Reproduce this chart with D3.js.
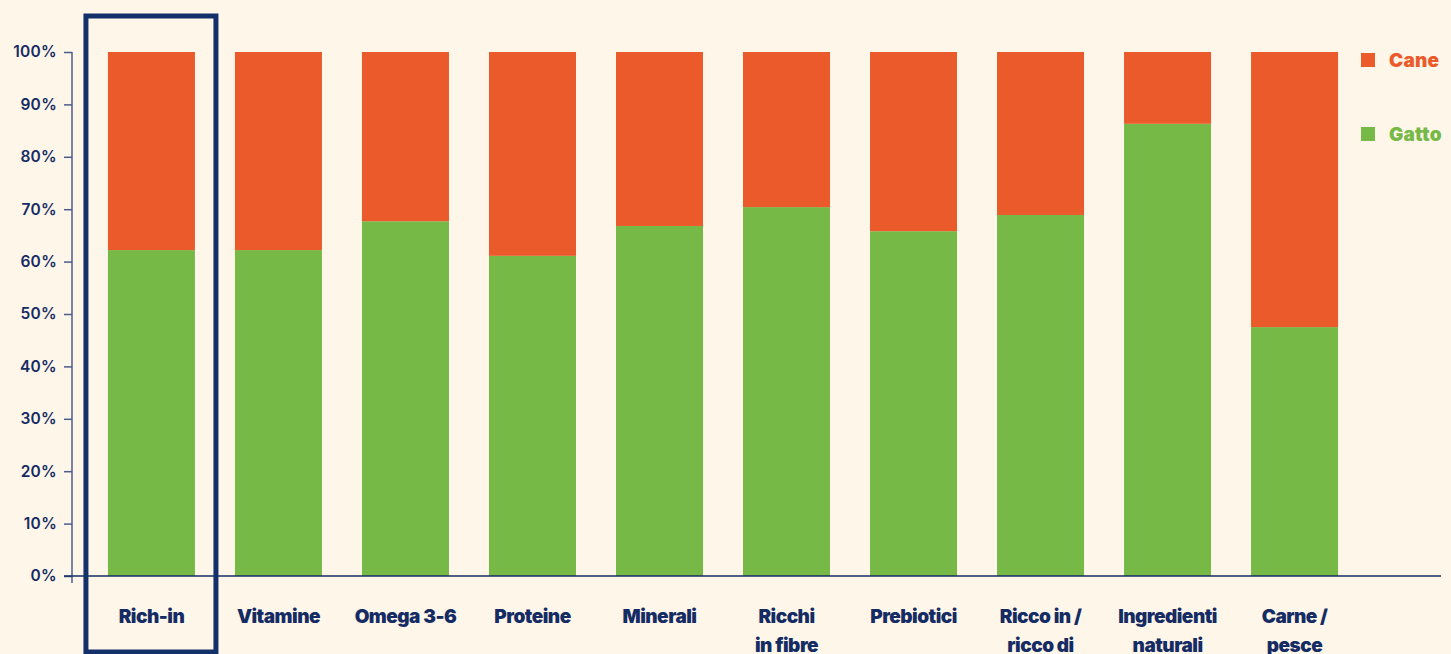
<!DOCTYPE html>
<html>
<head>
<meta charset="utf-8">
<script src="https://cdn.jsdelivr.net/npm/d3@7"></script>
<style>
  html, body { margin: 0; padding: 0; background: #fef6e8; }
  svg { display: block; }
</style>
</head>
<body>
<svg id="chart" width="1451" height="654"></svg>
<script>
// Share of cat (Gatto) vs dog (Cane) mentions per claim, in percent
const categories = [
  ["Rich-in"],
  ["Vitamine"],
  ["Omega 3-6"],
  ["Proteine"],
  ["Minerali"],
  ["Ricchi", "in fibre"],
  ["Prebiotici"],
  ["Ricco in /", "ricco di"],
  ["Ingredienti", "naturali"],
  ["Carne /", "pesce"]
];
const gatto = [62.2, 62.2, 67.7, 61.1, 66.8, 70.4, 65.8, 68.9, 86.3, 47.5];
const cane = gatto.map(v => 100 - v);
const yTicks = [0, 10, 20, 30, 40, 50, 60, 70, 80, 90, 100];
const seriesNames = ["Cane", "Gatto"];

const colors = { Cane: "#ea5a2b", Gatto: "#77b947" };
const navy = "#152b64";
const font = "Inter, 'Noto Sans', sans-serif";

const svg = d3.select("#chart");
const axisX = 72;

const x = d3.scaleBand()
  .domain(d3.range(categories.length))
  .range([88, 1358])
  .paddingInner(0.315)
  .paddingOuter(0.157);

const y = d3.scaleLinear()
  .domain([0, 100])
  .range([576, 52]);

// Stacked values: Gatto at the bottom, Cane on top
const rows = categories.map((c, i) => ({ i, Gatto: gatto[i], Cane: cane[i] }));
const layers = d3.stack().keys(["Gatto", "Cane"])(rows);

svg.append("g")
  .selectAll("g")
  .data(layers)
  .join("g")
  .attr("fill", d => colors[d.key])
  .selectAll("rect")
  .data(d => d)
  .join("rect")
  .attr("x", d => x(d.data.i))
  .attr("width", x.bandwidth())
  .attr("y", d => y(d[1]))
  .attr("height", d => y(d[0]) - y(d[1]));

// Y axis
const yAxis = svg.append("g")
  .attr("transform", `translate(${axisX},0)`)
  .call(d3.axisLeft(y).tickValues(yTicks).tickSize(8).tickPadding(8).tickFormat(d => d + "%"));
yAxis.select(".domain").remove();
yAxis.append("line")
  .attr("x1", 0).attr("x2", 0)
  .attr("y1", y(100)).attr("y2", y(0) + 7)
  .attr("stroke", "#4b5b8c").attr("stroke-width", 1.5);
yAxis.selectAll(".tick line").attr("stroke", "#4b5b8c").attr("stroke-width", 1.5);
yAxis.selectAll(".tick text")
  .attr("fill", navy)
  .attr("font-family", font)
  .attr("font-weight", 600)
  .attr("font-size", 15.5)
  .attr("letter-spacing", 0.3)
  .attr("dx", 1);

// X axis baseline
svg.append("line")
  .attr("x1", 64).attr("x2", 1441)
  .attr("y1", y(0)).attr("y2", y(0))
  .attr("stroke", navy).attr("stroke-width", 1.5);

// Category labels
const labels = svg.append("g")
  .attr("font-family", font)
  .attr("font-weight", 900)
  .attr("font-size", 19)
  .attr("letter-spacing", -0.5)
  .attr("fill", navy)
  .attr("text-anchor", "middle");

categories.forEach((lines, i) => {
  const cx = x(i) + x.bandwidth() / 2;
  const t = labels.append("text").attr("x", cx).attr("y", 623);
  lines.forEach((ln, k) => {
    t.append("tspan")
      .attr("x", cx)
      .attr("dy", k === 0 ? 0 : 29)
      .text(ln);
  });
});

// Highlight frame around the first category
const pad = 22;
svg.append("rect")
  .attr("x", x(0) - pad)
  .attr("y", 16)
  .attr("width", x.bandwidth() + 2 * pad - 1)
  .attr("height", 636)
  .attr("fill", "none")
  .attr("stroke", "#13306b")
  .attr("stroke-width", 5);

// Legend
const legend = svg.append("g")
  .attr("font-family", font)
  .attr("font-weight", 900)
  .attr("font-size", 19)
  .attr("letter-spacing", 0.2);
seriesNames.forEach((name, k) => {
  const yy = 60 + k * 74;
  legend.append("rect")
    .attr("x", 1361).attr("y", yy - 7)
    .attr("width", 14).attr("height", 14)
    .attr("fill", colors[name]);
  legend.append("text")
    .attr("x", 1389).attr("y", yy + 7)
    .attr("fill", colors[name])
    .text(name);
});
</script>
</body>
</html>
